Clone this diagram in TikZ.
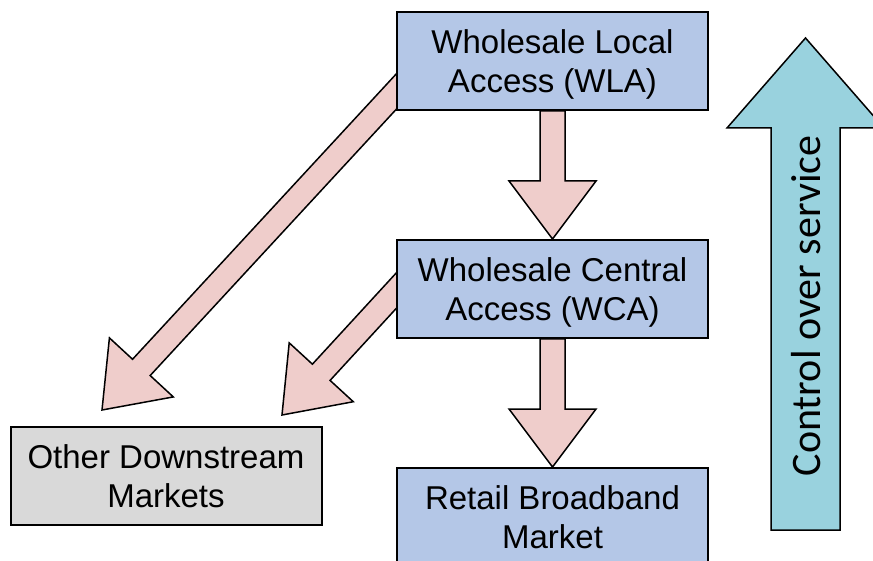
\documentclass[tikz,border=0pt]{standalone}
\usepackage{fontspec}
\setmainfont{Liberation Sans}
\newfontfamily\ctrlfont{Carlito}
\usetikzlibrary{positioning, calc, backgrounds}
\definecolor{boxblue}{HTML}{B4C7E7}
\definecolor{boxgray}{HTML}{D9D9D9}
\definecolor{arrowpink}{HTML}{EFCDCB}
\definecolor{arrowcyan}{HTML}{99D2DE}
\tikzset{market node/.style={rectangle, draw, line width=1pt, fill=boxblue, minimum width=155.5pt, minimum height=49pt, align=center, text depth=0pt, font=\fontsize{16.5}{19.5}\selectfont},
	fat arrow/.style={draw, line width=0.75pt, fill=arrowpink, line join=miter},}
% block arrow: start, tip, shaft half width, head half width, head length
\newcommand{\fatarrow}[6][]{%
	\coordinate (fa-h) at ($(#3)!#6!(#2)$);
	\path[#1] ($(#2)!#4!90:(#3)$) -- ($(fa-h)!#4!90:(#3)$) -- ($(fa-h)!#5!90:(#3)$) -- (#3)
		-- ($(fa-h)!#5!-90:(#3)$) -- ($(fa-h)!#4!-90:(#3)$) -- ($(#2)!#4!-90:(#3)$) -- cycle;}

\begin{document}
\begin{tikzpicture}[x=0.5pt, y=-0.5pt]
			\useasboundingbox (0,0) rectangle (873,561);
			\clip (0,0) rectangle (873,561);

			% Markets
			\node[market node] (wla) at (552.5,61) {Wholesale Local\\Access (WLA)};
			\node[market node] [below = 64pt of wla] (wca) {Wholesale Central\\Access (WCA)};
			\node[market node] [below = 64pt of wca] (retail) {Retail Broadband\\Market};
			\node[market node, fill=boxgray] (other) at (166,476) {Other Downstream\\Markets};

			% Ends
			\coordinate (wla out) at ($(wla.west)+(23,6)$);
			\coordinate (wca out) at ($(wca.west)+(22,-22)$);
			\coordinate (wla tip) at (102,410);
			\coordinate (wca tip) at (282,415);
			\coordinate (ctrl base) at (805.5,530);
			\coordinate (ctrl tip) at (805.5,38);

			% Supply arrows
			\begin{pgfonlayer}{background}
				\fatarrow[fat arrow]{wla.south}{wca.north}{6.25pt}{21.75pt}{29pt}
				\fatarrow[fat arrow]{wca.south}{retail.north}{6.25pt}{21.75pt}{29pt}
				\fatarrow[fat arrow]{wla out}{wla tip}{6pt}{21.75pt}{29pt}
				\fatarrow[fat arrow]{wca out}{wca tip}{6pt}{21.75pt}{29pt}
			\end{pgfonlayer}

			% Control
			\fatarrow[fat arrow, fill=arrowcyan]{ctrl base}{ctrl tip}{17.25pt}{39.25pt}{45pt}
			\node[rotate=90, font=\ctrlfont\fontsize{21}{25}\selectfont] (ctrl) at (806,306) {Control over service};
		\end{tikzpicture}
\end{document}
